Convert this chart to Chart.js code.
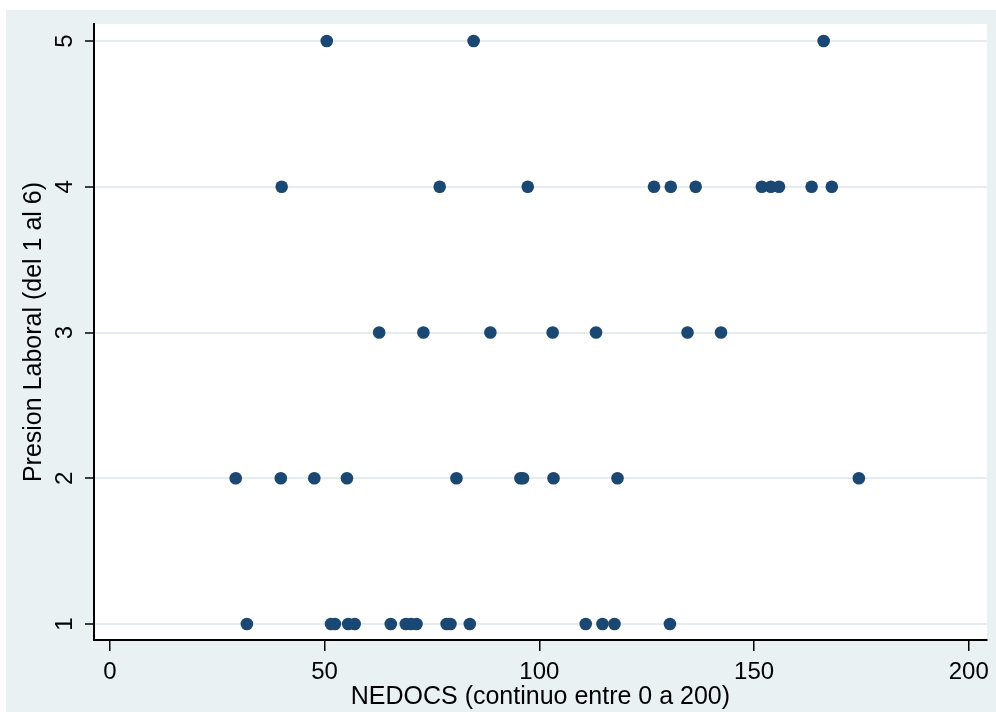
<!DOCTYPE html>
<html>
<head>
<meta charset="utf-8">
<script src="https://cdn.jsdelivr.net/npm/chart.js@4.4.1/dist/chart.umd.min.js"></script>
<style>
  body { margin: 0; background: #fff; }
  canvas { display: block; }
</style>
</head>
<body>
<canvas id="scatterChart" width="996" height="712"></canvas>
<script>
// NEDOCS values at each Presion Laboral level
var nivel5 = [50.5, 84.7, 166.2];
var nivel4 = [40.0, 76.8, 97.3, 126.7, 130.6, 136.4, 151.8, 153.9, 155.8, 163.4, 168.1];
var nivel3 = [62.7, 73.0, 88.6, 103.1, 113.2, 134.5, 142.3];
var nivel2 = [29.3, 39.8, 47.6, 55.2, 80.7, 95.6, 96.2, 103.3, 118.2, 174.4];
var nivel1 = [31.9, 51.5, 52.4, 55.5, 57.0, 65.4, 68.9, 70.1, 71.4, 78.4, 79.3, 83.8,
              110.8, 114.7, 117.5, 130.4];

var xTicks = [0, 50, 100, 150, 200];
var yTicks = [1, 2, 3, 4, 5];

var xTitle = 'NEDOCS (continuo entre 0 a 200)';
var yTitle = 'Presion Laboral (del 1 al 6)';

var points = [];
[[1, nivel1], [2, nivel2], [3, nivel3], [4, nivel4], [5, nivel5]].forEach(function (row) {
    row[1].forEach(function (x) {
        points.push({ x: x, y: row[0] });
    });
});

Chart.defaults.font.family = '"Liberation Sans", Arial, sans-serif';
Chart.defaults.color = '#000';

// backgrounds: outer light panel and white plot region
var fondo = {
    id: 'fondo',
    beforeDraw: function (chart) {
        var ctx = chart.ctx;
        var a = chart.chartArea;
        ctx.save();
        ctx.fillStyle = '#ffffff';
        ctx.fillRect(0, 0, chart.width, chart.height);
        ctx.fillStyle = '#eaf1f3';
        ctx.fillRect(6, 10, chart.width - 6, chart.height - 10);
        ctx.fillStyle = '#ffffff';
        ctx.fillRect(a.left, a.top, a.right - a.left, a.bottom - a.top);
        ctx.restore();
    }
};

// y tick labels are rotated like the original
var etiquetasY = {
    id: 'etiquetasY',
    afterDraw: function (chart) {
        var ctx = chart.ctx;
        var y = chart.scales.y;
        ctx.save();
        ctx.fillStyle = '#000';
        ctx.font = '24px "Liberation Sans", Arial, sans-serif';
        ctx.textAlign = 'center';
        ctx.textBaseline = 'middle';
        y.ticks.forEach(function (t) {
            ctx.save();
            ctx.translate(65, y.getPixelForValue(t.value));
            ctx.rotate(-Math.PI / 2);
            ctx.fillText(String(t.value), 0, 0);
            ctx.restore();
        });
        ctx.restore();
    }
};

var ctx = document.getElementById('scatterChart').getContext('2d');
var chart = new Chart(ctx, {
    type: 'scatter',
    data: {
        datasets: [{
            data: points,
            backgroundColor: '#1a4872',
            borderWidth: 0,
            pointRadius: 6.3,
            pointHoverRadius: 6.3
        }]
    },
    options: {
        responsive: false,
        animation: false,
        layout: { padding: { top: 24, right: 9, left: 0, bottom: 0 } },
        plugins: {
            legend: { display: false },
            tooltip: { enabled: false }
        },
        scales: {
            x: {
                type: 'linear',
                min: -3.7,
                max: 204.2,
                afterBuildTicks: function (scale) {
                    scale.ticks = xTicks.map(function (v) { return { value: v }; });
                },
                afterFit: function (scale) { scale.height = 72; },
                grid: {
                    drawOnChartArea: false,
                    color: '#000',
                    tickColor: '#000',
                    tickLength: 11,
                    lineWidth: 1.5
                },
                border: { display: true, color: '#000', width: 2 },
                ticks: {
                    font: { size: 24 },
                    color: '#000',
                    padding: 7,
                    maxRotation: 0,
                    autoSkip: false
                },
                title: {
                    display: true,
                    text: xTitle,
                    font: { size: 25 },
                    color: '#000',
                    padding: { top: 0, bottom: 0 }
                }
            },
            y: {
                type: 'linear',
                min: 0.89,
                max: 5.117,
                afterBuildTicks: function (scale) {
                    scale.ticks = yTicks.map(function (v) { return { value: v }; });
                },
                afterFit: function (scale) { scale.width = 94; },
                grid: {
                    color: '#e4ecef',
                    lineWidth: 2,
                    tickColor: '#000',
                    tickLength: 9,
                    tickWidth: 1.5
                },
                border: { display: true, color: '#000', width: 2 },
                ticks: { display: false },
                title: {
                    display: true,
                    text: yTitle,
                    font: { size: 25 },
                    color: '#000',
                    padding: { top: 19, bottom: 0 }
                }
            }
        }
    },
    plugins: [fondo, etiquetasY]
});
</script>
</body>
</html>
